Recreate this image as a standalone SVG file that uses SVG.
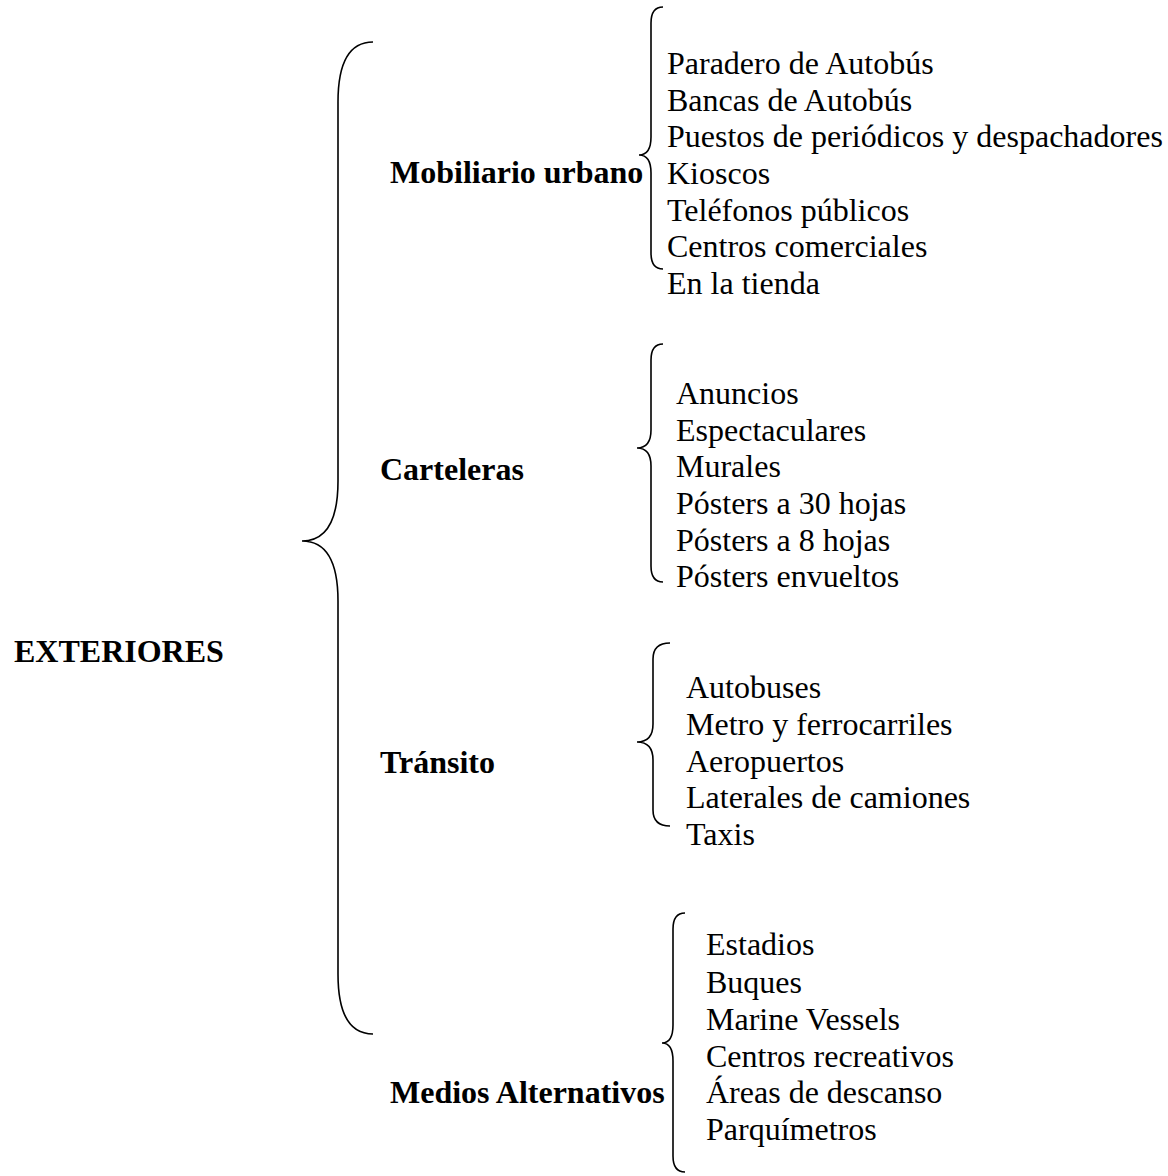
<svg xmlns="http://www.w3.org/2000/svg" width="1168" height="1176" viewBox="0 0 1168 1176">
<style>
text{font-family:"Liberation Serif","Times New Roman",serif;font-size:32px;fill:#000}
.b{font-weight:bold}
.brace{fill:none;stroke:#000;stroke-width:1.6}
</style>
<rect width="1168" height="1176" fill="#fff"/>
<g id="connectors">
<path class="brace" d="M373,42 Q338,42 338,102 L338,481 Q338,541 302,541 Q338,541 338,601 L338,974 Q338,1034 373,1034"/>
<path class="brace" d="M663,7 Q651,7 651,23 L651,137 Q651,155 639,155 Q651,155 651,173 L651,253 Q651,269 663,269"/>
<path class="brace" d="M663,344 Q651,344 651,360 L651,430 Q651,448 637,448 Q651,448 651,466 L651,566 Q651,582 663,582"/>
<path class="brace" d="M670,643 Q653,643 653,659 L653,724 Q653,742 637,742 Q653,742 653,760 L653,810 Q653,826 670,826"/>
<path class="brace" d="M685,913 Q673,913 673,929 L673,1025 Q673,1043 662,1043 Q673,1043 673,1061 L673,1156 Q673,1172 685,1172"/>
</g>
<g id="root"><text class="b" x="14" y="662">EXTERIORES</text></g>
<g id="mobiliario"><text class="b" x="390" y="183">Mobiliario urbano</text></g>
<g id="carteleras"><text class="b" x="380" y="480">Carteleras</text></g>
<g id="transito"><text class="b" x="380" y="773">Tránsito</text></g>
<g id="medios"><text class="b" x="390" y="1103">Medios Alternativos</text></g>
<g id="mobiliario-items">
<text x="667" y="74">Paradero de Autobús</text>
<text x="667" y="111">Bancas de Autobús</text>
<text x="667" y="147">Puestos de periódicos y despachadores</text>
<text x="667" y="184">Kioscos</text>
<text x="667" y="221">Teléfonos públicos</text>
<text x="667" y="257">Centros comerciales</text>
<text x="667" y="294">En la tienda</text>
</g>
<g id="carteleras-items">
<text x="676" y="404">Anuncios</text>
<text x="676" y="441">Espectaculares</text>
<text x="676" y="477">Murales</text>
<text x="676" y="514">Pósters a 30 hojas</text>
<text x="676" y="551">Pósters a 8 hojas</text>
<text x="676" y="587">Pósters envueltos</text>
</g>
<g id="transito-items">
<text x="686" y="698">Autobuses</text>
<text x="686" y="735">Metro y ferrocarriles</text>
<text x="686" y="772">Aeropuertos</text>
<text x="686" y="808">Laterales de camiones</text>
<text x="686" y="845">Taxis</text>
</g>
<g id="medios-items">
<text x="706" y="955">Estadios</text>
<text x="706" y="993">Buques</text>
<text x="706" y="1030">Marine Vessels</text>
<text x="706" y="1067">Centros recreativos</text>
<text x="706" y="1103">Áreas de descanso</text>
<text x="706" y="1140">Parquímetros</text>
</g>
</svg>
